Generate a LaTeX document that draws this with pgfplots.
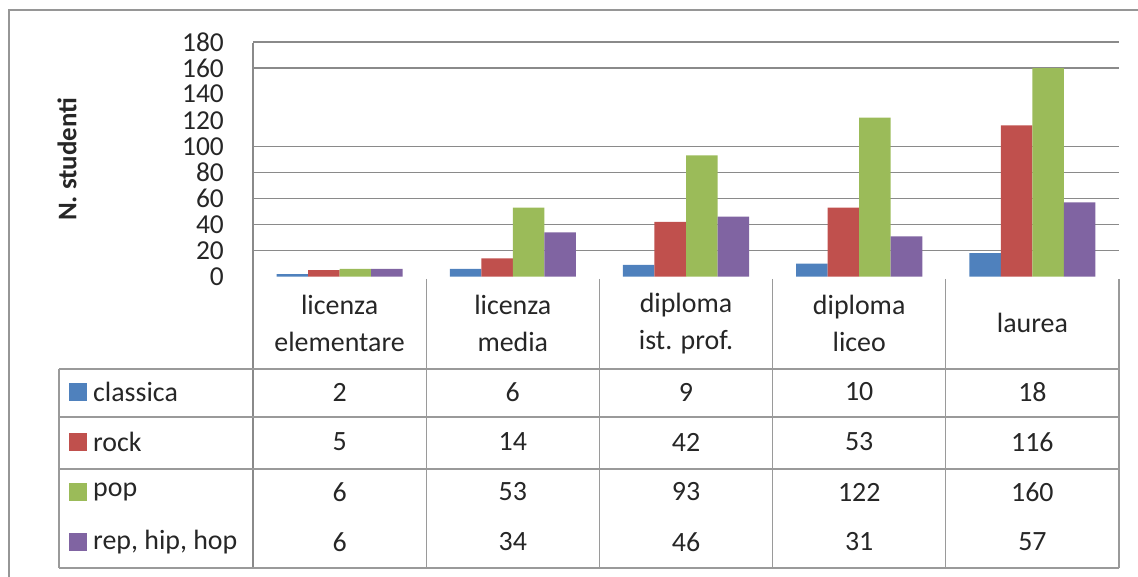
\documentclass[border=0pt]{standalone}
\usepackage{pgfplots}
\usepackage{pgfplotstable}
\pgfplotsset{compat=1.18}
\usepackage{fontspec}
\setmainfont{Carlito}
\definecolor{cBlue}{HTML}{4F81BD}
\definecolor{cRed}{HTML}{C0504D}
\definecolor{cGreen}{HTML}{9BBB59}
\definecolor{cPurple}{HTML}{8064A2}
\definecolor{gridc}{HTML}{8A8A8A}
\definecolor{tabc}{HTML}{9A9A9A}
\definecolor{txt}{HTML}{262626}
\pgfplotstableread{
cat classica rock pop rep
0 2 5 6 6
1 6 14 53 34
2 9 42 93 46
3 10 53 122 31
4 18 116 160 57
}\datatable
\begin{document}
\begin{tikzpicture}
\begin{scope}[x=1bp,y=-1bp]
\useasboundingbox (0,0) rectangle (1138,577);
\draw[gridc!90, line width=2.5bp] (9,700)--(9,10)--(1300,10);
\end{scope}
\begin{axis}[
  at={(253bp,-276.7bp)}, anchor=south west,
  scale only axis, width=866bp, height=234.7bp,
  xmin=-0.5, xmax=4.5, ymin=0, ymax=180,
  axis line style={draw=none}, tick style={draw=none},
  ytick={0,20,...,180},
  extra y ticks={20,40,60,80,100,160,180},
  extra y tick labels={},
  extra y tick style={grid=major, major grid style={gridc, line width=1.3bp}},
  /pgf/number format/assume math mode=true,
  yticklabel style={font=\fontsize{27.5}{28}\selectfont, text=txt, anchor=east, inner sep=0pt, xshift=-29bp},
  xtick={0,...,4},
  xticklabels={{licenza\\elementare},{licenza\\media},{diploma\\ist. prof.},{diploma\\liceo},{laurea}},
  xticklabel style={font=\fontsize{28}{37}\selectfont, text=txt, align=center, anchor=center, inner sep=0pt, yshift=-46.5bp},
  ylabel={N. studenti},
  every axis y label/.style={at={(rel axis cs:0,0.5)}, xshift=-186bp, rotate=90, anchor=center, font=\bfseries\fontsize{27}{28}\selectfont, text=txt},
  clip=false,
]
\addplot[ybar, bar width=0.182, bar shift=-0.273, fill=cBlue, draw=none] table[x=cat, y=classica] {\datatable};
\addplot[ybar, bar width=0.182, bar shift=-0.091, fill=cRed, draw=none] table[x=cat, y=rock] {\datatable};
\addplot[ybar, bar width=0.182, bar shift=0.091, fill=cGreen, draw=none] table[x=cat, y=pop] {\datatable};
\addplot[ybar, bar width=0.182, bar shift=0.273, fill=cPurple, draw=none] table[x=cat, y=rep] {\datatable};
\end{axis}
\begin{scope}[x=1bp,y=-1bp]
% vertical lines
\draw[gridc, line width=1.3bp] (253,42.7)--(253,568);
\foreach \i in {1,...,5} { \draw[tabc, line width=1.3bp] ({253+173.2*\i},279)--({253+173.2*\i},568); }
\draw[tabc, line width=1.3bp] (59,369)--(59,568);
% horizontal lines
\foreach \yy in {369,417,469,568} { \draw[tabc, line width=1.3bp] (59,\yy)--(1119,\yy); }
% legend entries
\foreach \c/\nm/\col [count=\ci from 0] in {classica/classica/cBlue,rock/rock/cRed,pop/pop/cGreen,rep/{rep, hip, hop}/cPurple} {
  \fill[\col] (69,{392+50*\ci-9}) rectangle (87,{392+50*\ci+9});
  \node[anchor=west, inner sep=0pt, text=txt, font=\fontsize{28}{30}\selectfont] at (93,{392+50*\ci}) {\nm};
  \foreach \r in {0,...,4} {
    \pgfplotstablegetelem{\r}{\c}\of\datatable
    \node[inner sep=0pt, text=txt, font=\fontsize{28}{30}\selectfont] at ({253+173.2*(\r+0.5)},{392+50*\ci}) {\pgfplotsretval};
  }
}
\end{scope}
\end{tikzpicture}
\end{document}
